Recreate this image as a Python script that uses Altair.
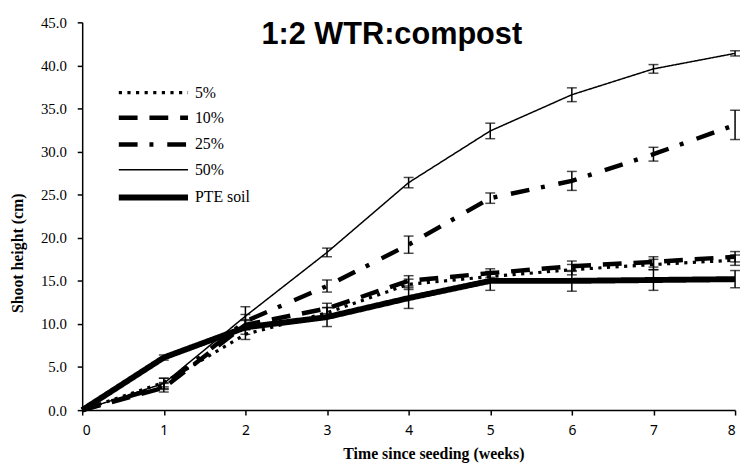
import altair as alt
import pandas as pd

weeks = [0, 1, 2, 3, 4, 5, 6, 7, 8]
series_names = ["5%", "10%", "25%", "50%", "PTE soil"]

h5 = [0, 3.2, 8.8, 11.3, 14.6, 15.5, 16.3, 16.9, 17.4]
h10 = [0, 2.6, 9.9, 11.8, 15.0, 15.9, 16.7, 17.2, 17.8]
h25 = [0, 2.8, 10.3, 14.4, 19.2, 24.6, 26.6, 29.7, 33.1]
h50 = [0, 3.1, 10.9, 18.3, 26.4, 32.4, 36.6, 39.6, 41.4]
hpte = [0, 6.1, 9.6, 10.8, 13.0, 15.0, 15.0, 15.1, 15.2]

e5 = [0, 0.5, 0.6, 0.6, 0.6, 0.5, 0.6, 0.6, 0.6]
e10 = [0, 0.5, 0.6, 0.6, 0.6, 0.5, 0.6, 0.6, 0.6]
e25 = [0, 0.4, 0.8, 0.7, 1.0, 0.6, 1.1, 0.8, 1.7]
e50 = [0, 0.6, 1.1, 0.5, 0.6, 0.9, 0.8, 0.5, 0.3]
epte = [0, 0.3, 0.8, 1.1, 1.2, 1.1, 1.2, 1.2, 1.0]

y_ticks = [0, 5, 10, 15, 20, 25, 30, 35, 40, 45]

rows = []
for name, vals, errs in zip(series_names, [h5, h10, h25, h50, hpte], [e5, e10, e25, e50, epte]):
    for w, v, e in zip(weeks, vals, errs):
        rows.append({"week": w, "series": name, "height": v, "lo": v - e, "hi": v + e})
df = pd.DataFrame(rows)
err_df = df[df["week"] > 0]

xscale = alt.Scale(domain=[0, 8], nice=False, zero=False)
yscale = alt.Scale(domain=[0, 45], nice=False)
xaxis = alt.Axis(values=weeks, title="Time since seeding (weeks)", format="d")
yaxis = alt.Axis(values=y_ticks, format=".1f", title="Shoot height (cm)")

leg = alt.Legend(
    title=None, orient="none", legendX=62, legendY=62,
    symbolType="M-5,0H5", symbolSize=196, symbolStrokeColor="black",
    labelFont="Liberation Serif", labelFontSize=16, labelColor="black",
    labelOffset=32, rowPadding=8,
)

lines = alt.Chart(df).mark_line(color="black").encode(
    x=alt.X("week:Q", scale=xscale, axis=xaxis),
    y=alt.Y("height:Q", scale=yscale, axis=yaxis),
    strokeDash=alt.StrokeDash(
        "series:N",
        scale=alt.Scale(domain=series_names,
                        range=[[3.2, 5.5], [19, 12], [19, 12, 4, 14], [1, 0], [1, 0]]),
        legend=leg,
    ),
    strokeWidth=alt.StrokeWidth(
        "series:N",
        scale=alt.Scale(type="ordinal", domain=series_names, range=[3.2, 4.5, 4.5, 1.5, 6]),
        legend=leg,
    ),
)

rules = alt.Chart(err_df).mark_rule(color="black", strokeWidth=1.5).encode(
    x=alt.X("week:Q", scale=xscale, axis=xaxis),
    y=alt.Y("lo:Q", scale=yscale, axis=yaxis),
    y2="hi:Q",
)
caps_lo = alt.Chart(err_df).mark_tick(color="black", orient="horizontal", size=10, thickness=1.5).encode(
    x=alt.X("week:Q", scale=xscale, axis=xaxis),
    y=alt.Y("lo:Q", scale=yscale, axis=yaxis),
)
caps_hi = alt.Chart(err_df).mark_tick(color="black", orient="horizontal", size=10, thickness=1.5).encode(
    x=alt.X("week:Q", scale=xscale, axis=xaxis),
    y=alt.Y("hi:Q", scale=yscale, axis=yaxis),
)

chart = alt.layer(lines, rules, caps_lo, caps_hi).properties(
    width=660, height=392,
    autosize=alt.AutoSizeParams(type="none"),
    padding={"left": 75, "top": 12, "right": 6, "bottom": 56},
    title=alt.TitleParams(
        "1:2 WTR:compost", font="Liberation Sans", fontSize=31, fontWeight="bold",
        anchor="middle", frame="group", offset=-25, dx=-17, dy=35,
        baseline="alphabetic", color="black",
    ),
).configure_view(stroke=None).configure_axis(
    grid=False, domainColor="black", domainWidth=1.5, tickColor="black", tickWidth=1.5,
    tickSize=5, labelColor="black", titleColor="black",
    titleFont="Liberation Serif", titleFontWeight="bold", titleFontSize=16,
).configure_axisY(
    labelFont="Liberation Serif", labelFontSize=15, labelPadding=11,
    titleX=-65, titleY=233, titleAngle=270, titleBaseline="middle", titleAlign="center",
).configure_axisX(
    labelFont="Noto Sans", labelFontSize=14, labelPadding=9,
    titleX=355, titleY=44, titleBaseline="middle", titleAlign="center",
)

chart.save("out.html", embed_options={"renderer": "svg", "actions": False})
